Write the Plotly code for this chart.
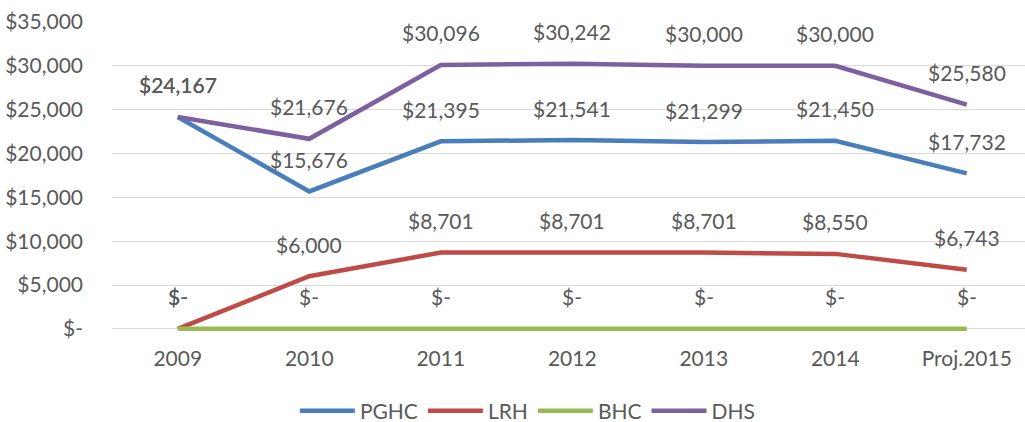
import plotly.graph_objects as go

categories = ["2009", "2010", "2011", "2012", "2013", "2014", "Proj.2015"]
pghc = [24167, 15676, 21395, 21541, 21299, 21450, 17732]
lrh = [0, 6000, 8701, 8701, 8701, 8550, 6743]
bhc = [0, 0, 0, 0, 0, 0, 0]
dhs = [24167, 21676, 30096, 30242, 30000, 30000, 25580]
y_ticks = [0, 5000, 10000, 15000, 20000, 25000, 30000, 35000]
y_tick_labels = ["$-", "$5,000", "$10,000", "$15,000", "$20,000", "$25,000", "$30,000", "$35,000"]

series = [
    ("PGHC", pghc, "#4A7EBB"),
    ("LRH", lrh, "#BE4B48"),
    ("BHC", bhc, "#98B954"),
    ("DHS", dhs, "#7D60A0"),
]

FONT = "Lato"
GRAY = "#595959"
FS = 21


def fmt(v):
    return f"${v:,.0f}" if v else "$-"


fig = go.Figure()
annotations = []
for name, vals, color in series:
    fig.add_trace(go.Scatter(
        x=categories, y=vals, name=name, mode="lines",
        line=dict(color=color, width=4.5),
        hoverinfo="skip", cliponaxis=False,
    ))
    for i, v in enumerate(vals):
        annotations.append(dict(
            x=i, y=v, xref="x", yref="y", text=fmt(v), showarrow=False,
            yshift=32, font=dict(family=FONT, size=FS, color=GRAY),
        ))

fig.update_layout(
    width=1025, height=422,
    margin=dict(l=112, r=0, t=22, b=80, autoexpand=False),
    paper_bgcolor="white", plot_bgcolor="white",
    font=dict(family=FONT, size=FS, color=GRAY),
    annotations=annotations,
    showlegend=True,
    legend=dict(
        orientation="h", x=0.515, xref="container", xanchor="center",
        y=0.026, yref="container", yanchor="middle",
        font=dict(family=FONT, size=FS, color=GRAY), itemwidth=55,
        traceorder="normal",
    ),
    xaxis=dict(
        type="category", range=[-0.5, 6.443], showgrid=False, zeroline=False,
        showline=False, ticks="", ticklabelstandoff=2,
        tickfont=dict(family=FONT, size=FS, color=GRAY),
    ),
    yaxis=dict(
        range=[-1500, 35000], tickvals=y_ticks, ticktext=y_tick_labels,
        showgrid=True, gridcolor="#D9D9D9", gridwidth=1.3, zeroline=False,
        showline=False, ticks="", ticklabelstandoff=28,
        tickfont=dict(family=FONT, size=FS, color=GRAY),
    ),
)

fig.write_html(
    "out.html",
    config={"displayModeBar": False},
    post_script="document.body.style.margin='0px';document.body.style.overflow='hidden';",
)
